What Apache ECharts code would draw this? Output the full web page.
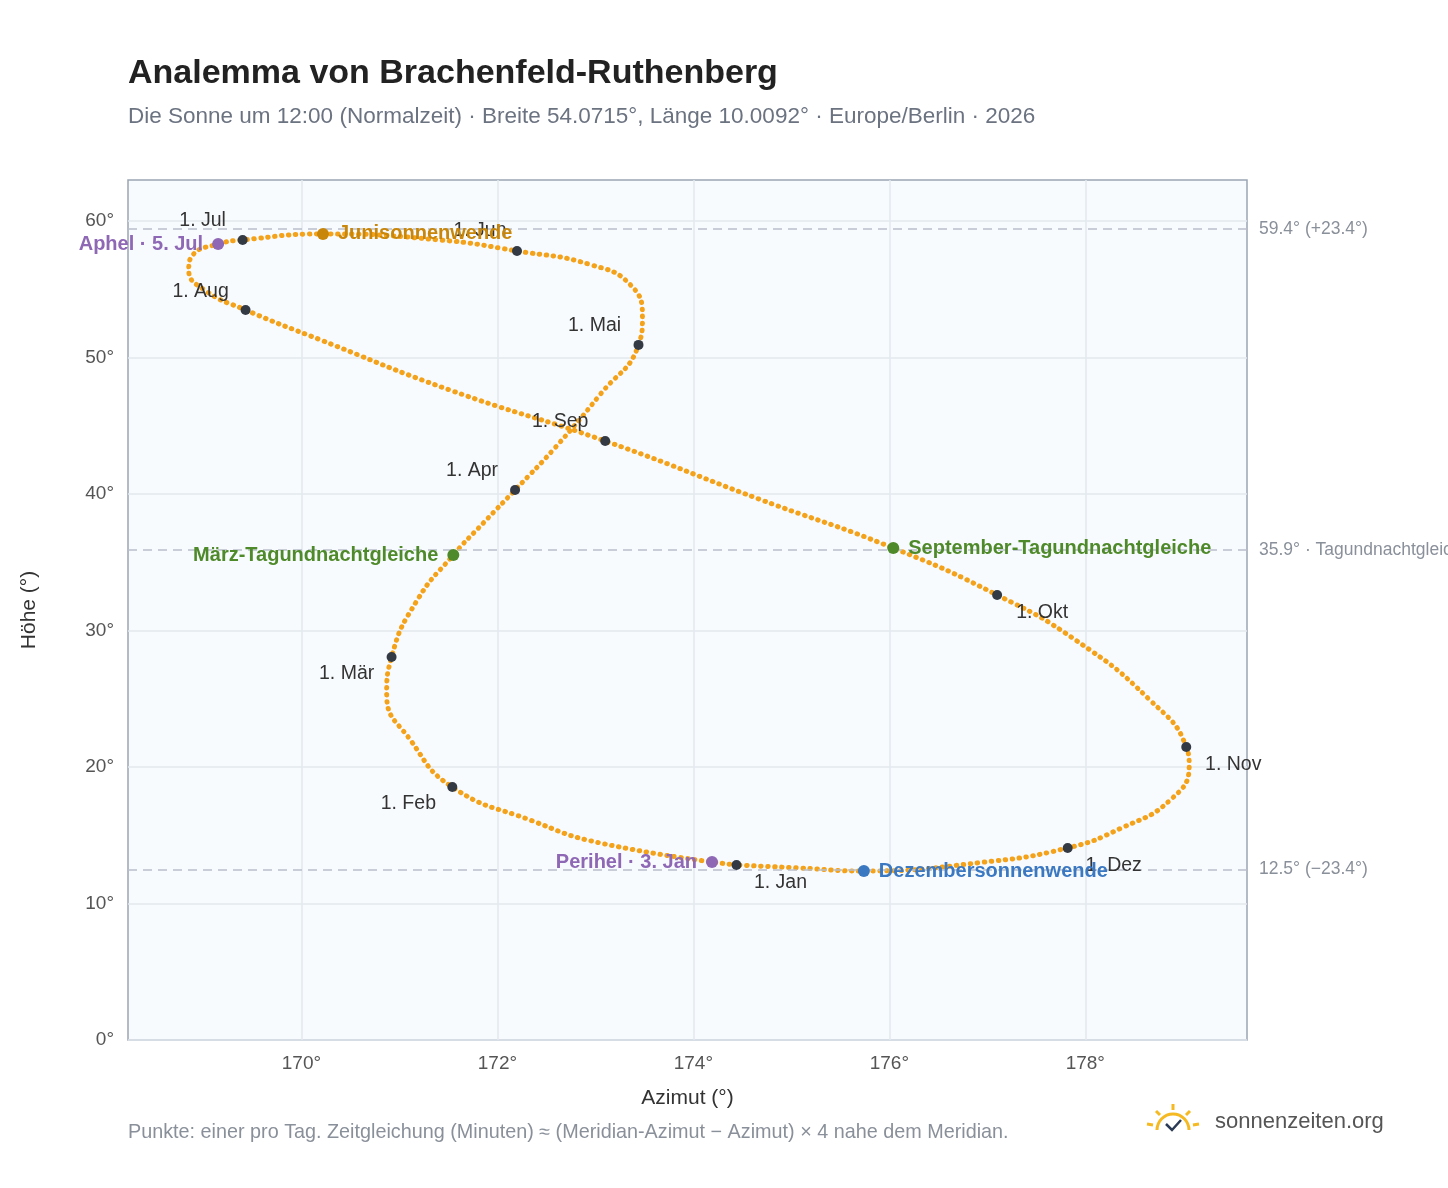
<!DOCTYPE html>
<html>
<head>
<meta charset="utf-8">
<script src="https://cdn.jsdelivr.net/npm/echarts@6/dist/echarts.min.js"></script>
<style>
  html, body { margin: 0; padding: 0; background: #fff; }
  #chart { width: 1448px; height: 1188px; }
</style>
</head>
<body>
<div id="chart"></div>
<script>
// Analemmakurve (Azimut, Höhe), nach Datum geordnet
const curveAz = [174.44, 173.05, 172.34, 171.54, 171.12, 170.87, 170.92, 171.18, 171.55, 171.86, 172.18, 172.59, 173.05, 173.44, 173.48, 173.36, 172.95, 172.2, 171.42, 170.22, 169.4, 169.15, 168.89, 168.85, 169.02, 169.43, 170.19, 171.52, 173.1, 174.68, 176.04, 177.1, 177.9, 178.66, 179.03, 179.06, 178.87, 178.36, 177.82, 176.93, 175.74, 175.09, 174.44];
const curveAlt = [12.82, 14.43, 16.1, 18.53, 21.9, 25.3, 28.06, 32.2, 35.53, 37.9, 40.29, 43.4, 47.3, 50.92, 52.9, 55.3, 56.8, 57.8, 58.6, 59.05, 58.61, 58.31, 57.5, 56.4, 54.9, 53.48, 51.3, 47.6, 43.88, 39.6, 36.04, 32.6, 29.3, 24.9, 21.47, 20.1, 17.6, 15.5, 14.07, 13.0, 12.38, 12.6, 12.82];

// Monatsanfänge
const monthNames = ["1. Jan", "1. Feb", "1. Mär", "1. Apr", "1. Mai", "1. Jun", "1. Jul", "1. Aug", "1. Sep", "1. Okt", "1. Nov", "1. Dez"];
const monthAz = [174.44, 171.54, 170.92, 172.18, 173.44, 172.2, 169.4, 169.43, 173.1, 177.1, 179.03, 177.82];
const monthAlt = [12.82, 18.53, 28.06, 40.29, 50.92, 57.8, 58.61, 53.48, 43.88, 32.6, 21.47, 14.07];

// Besondere Ereignisse
const eventNames = ["Perihel · 3. Jan", "März-Tagundnachtgleiche", "Junisonnenwende", "Aphel · 5. Jul", "September-Tagundnachtgleiche", "Dezembersonnenwende"];
const eventAz = [174.19, 171.55, 170.22, 169.15, 176.04, 175.74];
const eventAlt = [13.04, 35.53, 59.05, 58.31, 36.04, 12.38];

// Referenzlinien
const refValues = [59.4, 35.9, 12.5];
const refLabels = ["59.4° (+23.4°)", "35.9° · Tagundnachtgleiche", "12.5° (−23.4°)"];

const xTicks = [170, 172, 174, 176, 178];
const yTicks = [0, 10, 20, 30, 40, 50, 60];

// Layout (nicht Daten)
const monthOffsets = [[44, 18], [-44, 17], [-45, 17], [-43, -19], [-44, -19], [-37, -20], [-40, -19], [-45, -18], [-45, -19], [45, 18], [47, 18], [46, 18]];
const eventColors = ["#8e67b5", "#4f8a2a", "#c8860a", "#8e67b5", "#4f8a2a", "#3a78c2"];
const eventSide = ["left", "left", "right", "left", "right", "right"];

const chart = echarts.init(document.getElementById("chart"));
chart.setOption({
    animation: false,
    textStyle: { fontFamily: "Liberation Sans, Arial, sans-serif" },
    title: {
        text: "Analemma von Brachenfeld-Ruthenberg",
        subtext: "Die Sonne um 12:00 (Normalzeit) · Breite 54.0715°, Länge 10.0092° · Europe/Berlin · 2026",
        left: 123,
        top: 52,
        itemGap: 14,
        textStyle: { fontSize: 34, fontWeight: "bold", color: "#222" },
        subtextStyle: { fontSize: 22.5, color: "#6b7280" }
    },
    grid: { left: 128, right: 201, top: 180, bottom: 148, show: true, backgroundColor: "#f8fbfe", borderColor: "#9aa5b4", borderWidth: 1.5 },
    xAxis: {
        type: "value", min: 168.23, max: 179.65,
        name: "Azimut (°)", nameLocation: "middle", nameGap: 48,
        nameTextStyle: { fontSize: 21, color: "#333" },
        axisLine: { show: false }, axisTick: { show: false, customValues: xTicks },
        axisLabel: { customValues: xTicks, formatter: "{value}°", fontSize: 19, color: "#555", margin: 14 },
        splitLine: { show: true, lineStyle: { color: "#e3e8ee", width: 1.5 } }
    },
    yAxis: {
        type: "value", min: 0, max: 63,
        name: "Höhe (°)", nameLocation: "middle", nameGap: 88, nameRotate: 90,
        nameTextStyle: { fontSize: 21, color: "#333" },
        axisLine: { show: false }, axisTick: { show: false, customValues: yTicks },
        axisLabel: { customValues: yTicks, formatter: "{value}°", fontSize: 19, color: "#555", margin: 14 },
        splitLine: { show: true, lineStyle: { color: "#e3e8ee", width: 1.5 } }
    },
    series: [
        {
            type: "line", smooth: 0.5, symbol: "none", silent: true,
            data: curveAz.map((a, i) => [a, curveAlt[i]]),
            lineStyle: { color: "#f5a21b", width: 5, type: [0.5, 6.5], cap: "round" },
            markLine: {
                silent: true, symbol: "none",
                lineStyle: { color: "#b8bfca", type: [9, 6], width: 1.5 },
                label: { position: "end", distance: 12, color: "#8a909a", fontSize: 17.5, formatter: p => refLabels[refValues.indexOf(p.value)] },
                data: refValues.map(v => ({ yAxis: v }))
            }
        },
        {
            type: "scatter", symbolSize: 10, z: 5,
            itemStyle: { color: "#333a44", opacity: 1 },
            data: monthAz.map((a, i) => ({
                value: [a, monthAlt[i]], name: monthNames[i],
                label: { show: true, position: "inside", offset: monthOffsets[i], formatter: "{b}", color: "#333", fontSize: 19.5 }
            }))
        },
        {
            type: "scatter", symbolSize: 12, z: 6,
            data: eventAz.map((a, i) => ({
                value: [a, eventAlt[i]], name: eventNames[i],
                itemStyle: { color: eventColors[i], opacity: 1 },
                label: { show: true, position: eventSide[i], distance: 9, formatter: "{b}", color: eventColors[i], fontSize: 20, fontWeight: "bold" }
            }))
        }
    ],
    graphic: [
        { type: "text", left: 128, top: 1123, style: { text: "Punkte: einer pro Tag. Zeitgleichung (Minuten) ≈ (Meridian-Azimut − Azimut) × 4 nahe dem Meridian.", fill: "#8a909a", fontSize: 19.8 } },
        { type: "text", left: 1215, top: 1111, style: { text: "sonnenzeiten.org", fill: "#555", fontSize: 22 } },
        { type: "arc", shape: { cx: 1173, cy: 1130, r: 16, startAngle: Math.PI, endAngle: 2 * Math.PI }, style: { stroke: "#f5b921", lineWidth: 3, fill: null } },
        { type: "polyline", shape: { points: [[1166, 1124], [1172, 1130], [1181, 1120]] }, style: { stroke: "#2b3a55", lineWidth: 2.5, fill: null } },
        { type: "line", shape: { x1: 1173, y1: 1104, x2: 1173, y2: 1110 }, style: { stroke: "#f5b921", lineWidth: 3 } },
        { type: "line", shape: { x1: 1156, y1: 1111, x2: 1160, y2: 1115 }, style: { stroke: "#f5b921", lineWidth: 3 } },
        { type: "line", shape: { x1: 1190, y1: 1111, x2: 1186, y2: 1115 }, style: { stroke: "#f5b921", lineWidth: 3 } },
        { type: "line", shape: { x1: 1147, y1: 1124, x2: 1153, y2: 1125 }, style: { stroke: "#f5b921", lineWidth: 3 } },
        { type: "line", shape: { x1: 1199, y1: 1124, x2: 1193, y2: 1125 }, style: { stroke: "#f5b921", lineWidth: 3 } }
    ]
});
</script>
</body>
</html>
